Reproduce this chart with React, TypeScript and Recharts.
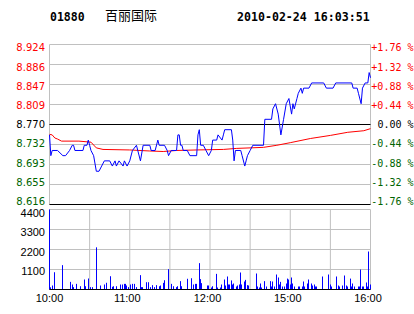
import {
  Bar,
  BarChart,
  CartesianGrid,
  Line,
  LineChart,
  ReferenceLine,
  XAxis,
  YAxis,
} from "recharts";

const stockCode = "01880";
const stockName = "百丽国际";
const stampText = "2010-02-24 16:03:51";

const prevClose = 8.77;
const priceTicks = [8.616, 8.6545, 8.693, 8.7315, 8.77, 8.8085, 8.847, 8.8855, 8.924];
const priceLabels = ["8.616", "8.655", "8.693", "8.732", "8.770", "8.809", "8.847", "8.886", "8.924"];
// change from previous close, one per price tick
const pctLabels = ["-1.76 %", "-1.32 %", "-0.88 %", "-0.44 %", "0.00 %", "+0.44 %", "+0.88 %", "+1.32 %", "+1.76 %"];
const volTicks = [0, 1100, 2200, 3300, 4400];
const volLabels = ["", "1100", "2200", "3300", "4400"];

// minutes since open; 10:00-12:00 morning, 14:30-16:00 afternoon
const gridMinutes = [0, 30, 60, 90, 120, 150, 180, 210, 240];
const timeMinutes = [0, 60, 120, 180, 240];
const timeLabels = ["10:00", "11:00", "12:00", "15:00", "16:00"];

// [minute, price]
const priceTrace: [number, number][] = [
  [0, 8.75], [1, 8.71], [2, 8.72], [6, 8.72], [10, 8.71], [12, 8.71], [15, 8.72], [17, 8.73],
  [18, 8.73], [19, 8.72], [25, 8.72], [26, 8.73], [28, 8.73], [29, 8.74], [30, 8.73], [31, 8.72],
  [33, 8.71], [35, 8.68], [37, 8.68], [39, 8.69], [41, 8.7], [45, 8.7], [47, 8.69], [49, 8.7],
  [50, 8.69], [52, 8.7], [55, 8.69], [56, 8.7], [58, 8.69], [60, 8.7], [62, 8.72], [65, 8.73],
  [68, 8.7], [70, 8.73], [75, 8.73], [76, 8.72], [79, 8.72], [81, 8.74], [82, 8.73], [86, 8.73],
  [88, 8.72], [89, 8.71], [91, 8.72], [95, 8.72], [96, 8.75], [97, 8.75], [98, 8.73], [99, 8.73],
  [100, 8.72], [103, 8.72], [105, 8.71], [110, 8.71], [111, 8.75], [112, 8.76], [113, 8.73],
  [115, 8.73], [117, 8.72], [119, 8.71], [121, 8.72], [122, 8.74], [125, 8.74], [126, 8.75],
  [129, 8.74], [130, 8.75], [131, 8.76], [136, 8.76], [137, 8.74], [138, 8.7], [139, 8.72],
  [143, 8.72], [144, 8.71], [146, 8.69], [147, 8.7], [148, 8.71], [150, 8.72], [152, 8.73],
  [160, 8.73], [161, 8.78], [166, 8.78], [167, 8.8], [169, 8.81], [171, 8.79], [173, 8.75],
  [175, 8.78], [177, 8.81], [179, 8.82], [181, 8.79], [182, 8.81], [183, 8.8], [185, 8.82],
  [186, 8.83], [188, 8.84], [189, 8.83], [190, 8.84], [194, 8.84], [196, 8.85], [205, 8.85],
  [207, 8.84], [212, 8.84], [214, 8.85], [226, 8.85], [227, 8.84], [230, 8.84], [231, 8.83],
  [233, 8.81], [234, 8.84], [236, 8.85], [238, 8.85], [239, 8.87], [240, 8.86],
];

// [minute, average price]
const avgTrace: [number, number][] = [
  [0, 8.751], [2, 8.75], [4, 8.744], [6, 8.742], [9, 8.738], [22, 8.738], [31, 8.736],
  [35, 8.725], [40, 8.722], [60, 8.721], [75, 8.719], [85, 8.718], [95, 8.72], [110, 8.721],
  [130, 8.722], [140, 8.724], [150, 8.725], [160, 8.726], [170, 8.73], [180, 8.735],
  [195, 8.743], [210, 8.749], [223, 8.755], [235, 8.758], [240, 8.762],
];

// [minute, volume]
const volumeBars: [number, number][] = [
  [0, 4400], [1, 120], [2, 220], [4, 950], [10, 1340], [16, 420], [17, 275], [18, 130], [20, 310],
  [23, 180], [26, 550], [27, 180], [29, 605], [31, 130], [32, 130], [35, 2320], [38, 220], [41, 275],
  [43, 370], [46, 730], [47, 150], [48, 180], [50, 180], [53, 275], [55, 275], [56, 310], [57, 310],
  [58, 220], [59, 130], [61, 275], [62, 310], [64, 310], [65, 130], [68, 790], [69, 130], [70, 130],
  [73, 400], [74, 400], [76, 130], [77, 240], [79, 130], [80, 240], [82, 180], [83, 220], [85, 365],
  [86, 510], [89, 1120], [91, 310], [93, 180], [95, 130], [96, 180], [98, 460], [99, 180], [103, 590],
  [106, 620], [108, 275], [109, 310], [110, 310], [112, 1450], [113, 570], [114, 350], [118, 220],
  [119, 220], [121, 110], [122, 180], [125, 860], [126, 110], [128, 110], [129, 275], [131, 550],
  [132, 220], [133, 715], [134, 275], [135, 275], [136, 500], [137, 275], [138, 330], [140, 165],
  [141, 220], [142, 275], [143, 935], [144, 275], [146, 440], [147, 530], [148, 240], [149, 220],
  [155, 880], [156, 165], [157, 110], [158, 330], [159, 110], [161, 460], [162, 165], [165, 460],
  [166, 165], [167, 440], [168, 165], [170, 825], [171, 660], [172, 275], [173, 420], [174, 165],
  [176, 165], [177, 330], [178, 600], [179, 550], [180, 275], [181, 660], [182, 330], [183, 165],
  [186, 165], [187, 165], [189, 165], [190, 440], [191, 165], [193, 330], [194, 550], [196, 330],
  [197, 220], [198, 275], [199, 165], [200, 165], [204, 715], [209, 825], [210, 275], [211, 165],
  [215, 715], [216, 220], [217, 165], [219, 220], [221, 770], [222, 220], [223, 165], [225, 600],
  [226, 165], [227, 330], [228, 165], [231, 165], [232, 165], [233, 1100], [234, 165], [235, 165],
  [237, 385], [238, 165], [239, 2090], [240, 275],
];

const RED = "#ff0000";
const GREEN = "#006400";
const GRID = "#c0c0c0";
const SANS = "'DejaVu Sans', Verdana, sans-serif";
const ARIAL = "'Liberation Sans', Arial, sans-serif";
const MONO = "'DejaVu Sans Mono', monospace";

const priceData = priceTrace.map(([m, p]) => ({ m, p }));
const avgData = avgTrace.map(([m, p]) => ({ m, p }));
const volumeData = volumeBars.map(([m, v]) => ({ m, v }));

const toneOf = (delta: number) => (delta > 0.0001 ? RED : delta < -0.0001 ? GREEN : "#000");

// labels are squeezed a little toward the middle, like the original:
// index 0 is the bottom tick (pushed up), the last one the top (pushed down)
const squeeze = (i: number, n: number) => (i - (n - 1) / 2) * 0.8;

// one tick draws the price on the left and the % change on the right
function PriceTick(props: any) {
  const { y, payload } = props;
  const i = priceTicks.indexOf(payload.value);
  const ty = y + squeeze(i, priceTicks.length);
  const fill = toneOf(payload.value - prevClose);
  return (
    <g>
      <text x={45} y={ty} dy={3.6} textAnchor="end" fontSize={10} style={{ fontFamily: SANS }} fill={fill}>
        {priceLabels[i]}
      </text>
      <text x={413.5} y={ty} dy={3.6} textAnchor="end" fontSize={10} style={{ fontFamily: MONO }} fill={fill}>
        {pctLabels[i]}
      </text>
    </g>
  );
}

function VolTick(props: any) {
  const { y, payload } = props;
  const i = volTicks.indexOf(payload.value);
  return (
    <text x={45} y={y + 0.3 + i * 0.9} dy={3.9} textAnchor="end" fontSize={11} style={{ fontFamily: ARIAL }} fill="#000">
      {volLabels[i]}
    </text>
  );
}

function TimeTick(props: any) {
  const { x, payload } = props;
  const i = timeMinutes.indexOf(payload.value);
  if (i < 0) return <g />;
  return (
    <text x={x + (i === 0 ? 0 : -2.5)} y={101.5} textAnchor="middle" fontSize={11}
      style={{ fontFamily: ARIAL }} fill="#000">
      {timeLabels[i]}
    </text>
  );
}

function VolBar(props: any) {
  const { x, y, height } = props;
  if (!height) return <g />;
  return <rect x={Math.round(x)} y={y} width={1} height={height} fill="#0000ff" />;
}

export default function App() {
  return (
    <div style={{ position: "absolute", left: 0, top: 0, width: 414, height: 314, background: "#fff", overflow: "hidden" }}>
      <svg width={414} height={30} style={{ position: "absolute", left: 0, top: 0 }}>
        <text x={50} y={21} fontSize={11.5} fontWeight="bold" style={{ fontFamily: MONO }}>{stockCode}</text>
        <text x={105} y={19.5} fontSize={13} style={{ fontFamily: "'Noto Sans CJK SC', sans-serif" }}>{stockName}</text>
        <text x={237} y={21} fontSize={11.6} fontWeight="bold" style={{ fontFamily: MONO }}>{stampText}</text>
      </svg>

      <div style={{ position: "absolute", left: 0, top: 0 }}>
        <LineChart width={414} height={210} margin={{ top: 44.5, right: 43.5, bottom: 5.5, left: 48.5 }}>
          <CartesianGrid stroke={GRID} />
          <XAxis type="number" dataKey="m" domain={[0, 240]} ticks={gridMinutes} interval={0}
            height={0} tick={false} axisLine={false} tickLine={false} />
          <YAxis domain={[priceTicks[0], priceTicks[8]]} ticks={priceTicks} interval={0}
            width={1} axisLine={false} tickLine={false} tick={<PriceTick />} allowDataOverflow />
          <ReferenceLine y={prevClose} stroke="#000" />
          <ReferenceLine y={priceTicks[0]} stroke="#000" />
          <Line data={avgData} dataKey="p" type="linear" stroke={RED} strokeWidth={1}
            dot={false} isAnimationActive={false} />
          <Line data={priceData} dataKey="p" type="linear" stroke="#0000ff" strokeWidth={1}
            dot={false} isAnimationActive={false} />
        </LineChart>
      </div>

      <div style={{ position: "absolute", left: 0, top: 200 }}>
        <BarChart width={414} height={114} data={volumeData} margin={{ top: 9.5, right: 43.5, bottom: 0, left: 48.5 }}>
          <CartesianGrid stroke={GRID} />
          <XAxis type="number" dataKey="m" domain={[0, 240]} ticks={gridMinutes} interval={0}
            height={24.5} axisLine={{ stroke: "#000" }} tickLine={false} tick={<TimeTick />} />
          <YAxis domain={[0, 4400]} ticks={volTicks} interval={0} width={1} axisLine={false}
            tickLine={false} tick={<VolTick />} />
          <Bar dataKey="v" barSize={1} shape={<VolBar />} isAnimationActive={false} />
        </BarChart>
      </div>
    </div>
  );
}
